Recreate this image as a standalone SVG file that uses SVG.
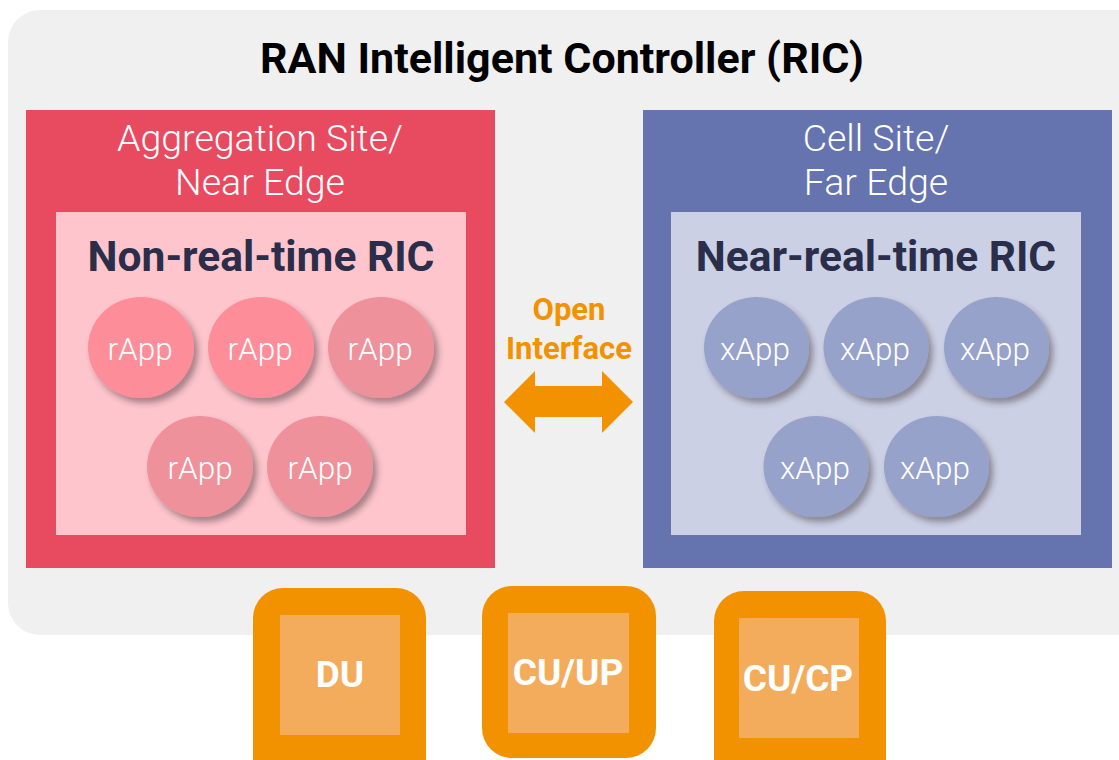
<svg xmlns="http://www.w3.org/2000/svg" width="1119" height="760" viewBox="0 0 1119 760">
<defs>
<style>
.title{font-family:Roboto,"Liberation Sans",sans-serif;font-weight:700;font-size:43px;fill:#000;text-anchor:middle}
.site{font-family:Roboto,"Liberation Sans",sans-serif;font-weight:300;font-size:37.5px;fill:#fff;text-anchor:middle}
.ric{font-family:Roboto,"Liberation Sans",sans-serif;font-weight:700;font-size:42.5px;fill:#2a2e4a;text-anchor:middle}
.app{font-family:Roboto,"Liberation Sans",sans-serif;font-weight:300;font-size:31.5px;fill:#fff;text-anchor:middle}
.oi{font-family:Roboto,"Liberation Sans",sans-serif;font-weight:700;font-size:31px;fill:#f39200;text-anchor:middle}
.nf{font-family:Roboto,"Liberation Sans",sans-serif;font-weight:700;font-size:37px;fill:#fff;text-anchor:middle}
.outer{fill:#f39200}
.inner{fill:#f3ac5c}
</style>
<filter id="sh" x="-30%" y="-30%" width="170%" height="170%">
<feDropShadow dx="4" dy="5" stdDeviation="3" flood-color="#3a2a35" flood-opacity="0.45"/>
</filter>
</defs>
<rect width="1119" height="760" fill="#fff"/>
<rect x="8" y="10" width="1160" height="625" rx="32" fill="#f0f0f0"/>
<text class="title" x="562" y="73">RAN Intelligent Controller (RIC)</text>

<g id="aggregation-site">
<rect x="26" y="110" width="469" height="458" fill="#e84a5f"/>
<text class="site" x="260" y="151">Aggregation Site/</text>
<text class="site" x="260" y="195">Near Edge</text>
<rect x="56" y="212" width="410" height="323" fill="#fec5cc"/>
<text class="ric" x="261" y="271">Non-real-time RIC</text>
</g>
<g id="rapps">
<g filter="url(#sh)">
<ellipse cx="141" cy="347.5" rx="53" ry="50.5" fill="#fd8d99"/>
<ellipse cx="261" cy="347.5" rx="53" ry="50.5" fill="#fd8d99"/>
<ellipse cx="381" cy="347.5" rx="53" ry="50.5" fill="#ee919b"/>
<ellipse cx="200" cy="466.5" rx="53" ry="50.5" fill="#ee919b"/>
<ellipse cx="320" cy="466.5" rx="53" ry="50.5" fill="#ee919b"/>
</g>
<text class="app" x="140" y="360">rApp</text>
<text class="app" x="260" y="360">rApp</text>
<text class="app" x="380" y="360">rApp</text>
<text class="app" x="200" y="479">rApp</text>
<text class="app" x="320" y="479">rApp</text>
</g>

<g id="cell-site">
<rect x="643" y="110" width="469" height="458" fill="#6573ae"/>
<text class="site" x="876" y="151">Cell Site/</text>
<text class="site" x="876" y="195">Far Edge</text>
<rect x="671" y="212" width="410" height="323" fill="#cbd0e4"/>
<text class="ric" x="876" y="271">Near-real-time RIC</text>
</g>
<g id="xapps">
<g filter="url(#sh)">
<ellipse cx="756.5" cy="347.5" rx="52.5" ry="50.5" fill="#97a2cb"/>
<ellipse cx="876" cy="347.5" rx="52.5" ry="50.5" fill="#97a2cb"/>
<ellipse cx="996.5" cy="347.5" rx="52.5" ry="50.5" fill="#97a2cb"/>
<ellipse cx="816" cy="466.5" rx="52.5" ry="50.5" fill="#97a2cb"/>
<ellipse cx="936.5" cy="466.5" rx="52.5" ry="50.5" fill="#97a2cb"/>
</g>
<text class="app" x="755" y="360">xApp</text>
<text class="app" x="875" y="360">xApp</text>
<text class="app" x="995" y="360">xApp</text>
<text class="app" x="815" y="479">xApp</text>
<text class="app" x="935" y="479">xApp</text>
</g>

<g id="connectors">
<polygon points="504,402 535,371 535,386 602,386 602,371 633,402 602,433 602,417 535,417 535,433" fill="#f39200"/>
<text class="oi" x="569" y="320">Open</text>
<text class="oi" x="569" y="359">Interface</text>
</g>

<g id="du">
<rect class="outer" x="253" y="588" width="173" height="200" rx="30"/>
<rect class="inner" x="280" y="615" width="120" height="120"/>
<text class="nf" x="340" y="687">DU</text>
</g>
<g id="cu-up">
<rect class="outer" x="482" y="586" width="174" height="172" rx="30"/>
<rect class="inner" x="508" y="613" width="121" height="120"/>
<text class="nf" x="568" y="685">CU/UP</text>
</g>
<g id="cu-cp">
<rect class="outer" x="714" y="591" width="172" height="200" rx="30"/>
<rect class="inner" x="739" y="618" width="120" height="120"/>
<text class="nf" x="798" y="691">CU/CP</text>
</g>
</svg>
